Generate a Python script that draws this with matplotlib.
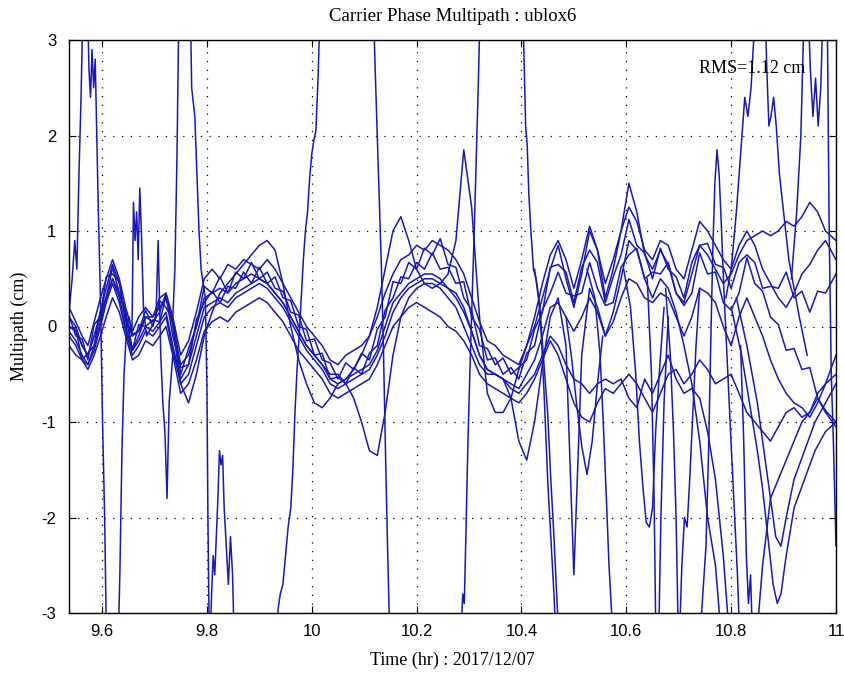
import numpy as np
import matplotlib
matplotlib.use("Agg")
import matplotlib.pyplot as plt

# epochs (hr) shared by the satellites tracked over the whole session
hours = [9.537, 9.55, 9.562, 9.573, 9.585, 9.597, 9.608, 9.62, 9.633, 9.645,
         9.658, 9.67, 9.683, 9.697, 9.71, 9.722, 9.735, 9.75, 9.765, 9.78,
         9.795, 9.81, 9.825, 9.84, 9.855, 9.87, 9.885, 9.9, 9.915, 9.93,
         9.945, 9.96, 9.975, 9.99, 10.005, 10.02, 10.035, 10.05, 10.065, 10.08,
         10.095, 10.11, 10.125, 10.14, 10.155, 10.17, 10.185, 10.2, 10.215, 10.23,
         10.245, 10.26, 10.275, 10.29, 10.305, 10.32, 10.335, 10.35, 10.365, 10.38,
         10.395, 10.41, 10.425, 10.44, 10.455, 10.47, 10.485, 10.5, 10.515, 10.53,
         10.545, 10.56, 10.575, 10.59, 10.605, 10.62, 10.635, 10.65, 10.665, 10.68,
         10.695, 10.71, 10.725, 10.74, 10.755, 10.77, 10.785, 10.8, 10.815, 10.83,
         10.845, 10.86, 10.875, 10.89, 10.905, 10.92, 10.935, 10.95, 10.965, 10.98,
         11.0]

# multipath (cm) per satellite on those epochs
mp_prn02 = [0.2, 0.05, -0.1, -0.2, 0.05, 0.3, 0.5, 0.7, 0.5, 0.2,
            -0.05, 0.1, 0.2, 0.1, 0.3, 0.35, 0.1, -0.3, -0.15, 0.15,
            0.5, 0.6, 0.5, 0.65, 0.6, 0.7, 0.65, 0.6, 0.7, 0.6,
            0.45, 0.3, 0.15, 0.0, -0.1, -0.2, -0.35, -0.4, -0.3, -0.25,
            -0.2, -0.1, 0.1, 0.35, 0.55, 0.7, 0.75, 0.85, 0.8, 0.9,
            0.85, 0.8, 0.7, 0.55, 0.3, 0.05, -0.15, -0.2, -0.3, -0.35,
            -0.4, -0.2, 0.1, 0.45, 0.75, 0.9, 0.7, 0.4, 0.7, 1.05,
            0.8, 0.45, 0.7, 1.0, 1.25, 1.1, 0.8, 0.7, 0.9, 0.85,
            0.6, 0.5, 0.8, 1.1, 1.0, 0.85, 0.7, 0.6, 0.85, 1.0,
            0.85, 0.6, 0.45, 0.3, 0.2, 0.35, 0.55, 0.65, 0.8, 0.9,
            0.7]
mp_prn05 = [0.12, -0.1, -0.13, -0.35, 0.02, 0.1, 0.52, 0.55, 0.47, 0.05,
            -0.08, -0.05, 0.17, 0.0, 0.27, 0.2, 0.07, -0.5, -0.23, 0.0,
            0.42, 0.35, 0.52, 0.35, 0.57, 0.5, 0.67, 0.5, 0.57, 0.4,
            0.37, 0.15, 0.12, -0.15, -0.13, -0.35, -0.38, -0.55, -0.38, -0.45,
            -0.28, -0.35, -0.03, 0.1, 0.47, 0.45, 0.67, 0.6, 0.82, 0.75,
            0.92, 0.65, 0.62, 0.3, 0.17, -0.2, -0.23, -0.4, -0.33, -0.5,
            -0.43, -0.35, -0.03, 0.15, 0.62, 0.65, 0.57, 0.25, 0.62, 0.8,
            0.67, 0.25, 0.52, 0.75, 1.12, 0.85, 0.77, 0.5, 0.82, 0.6,
            0.52, 0.3, 0.67, 0.85, 0.87, 0.65, 0.62, 0.4, 0.67, 0.75,
            0.67, 0.4, 0.42, 0.4, 0.57, 0.3, 0.37, 0.15, 0.37, 0.35,
            0.55]
mp_prn10 = [-0.2, -0.3, -0.35, -0.45, -0.3, -0.1, 0.1, 0.3, 0.15, -0.1,
            -0.35, -0.3, -0.15, -0.2, -0.1, 0.0, -0.3, -0.7, -0.6, -0.35,
            -0.05, 0.05, 0.1, 0.05, 0.15, 0.2, 0.25, 0.3, 0.25, 0.15,
            0.05, -0.1, -0.25, -0.35, -0.45, -0.55, -0.7, -0.75, -0.7, -0.65,
            -0.6, -0.55, -0.4, -0.2, 0.0, 0.1, 0.2, 0.25, 0.2, 0.15,
            0.1, 0.0, -0.05, -0.15, -0.3, -0.5, -0.6, -0.65, -0.7, -0.75,
            -0.8, -0.7, -0.55, -0.35, -0.15, -0.3, -0.55, -0.8, -0.95, -1.0,
            -0.8, -0.65, -0.7, -0.6, -0.5, -0.6, -0.75, -0.9, -0.7, -0.5,
            -0.45, -0.6, -0.5, -0.35, -0.45, -0.6, -0.55, -0.5, -0.7, -0.9,
            -1.0, -1.1, -1.2, -1.05, -0.9, -0.85, -0.95, -0.9, -0.75, -0.9,
            -1.05]
mp_prn13 = [-0.1, -0.2, -0.35, -0.4, -0.25, 0.0, 0.25, 0.45, 0.25, -0.05,
            -0.3, -0.2, -0.05, -0.1, 0.0, 0.1, -0.25, -0.6, -0.5, -0.2,
            0.1, 0.2, 0.25, 0.2, 0.3, 0.35, 0.4, 0.45, 0.4, 0.3,
            0.2, 0.05, -0.1, -0.25, -0.35, -0.45, -0.6, -0.65, -0.6, -0.55,
            -0.5, -0.45, -0.3, -0.1, 0.15, 0.3, 0.4, 0.45, 0.5, 0.5,
            0.45, 0.4, 0.3, 0.15, -0.05, -0.3, -0.45, -0.5, -0.55, -0.6,
            -0.65, -0.5, -0.35, -0.1, 0.2, 0.25, 0.1, -0.05, 0.1, 0.3,
            0.15, -0.1, 0.05, 0.3, 0.5, 0.45, 0.3, 0.25, 0.35, 0.3,
            0.1, -0.1, 0.1, 0.4, 0.35, 0.25, 0.0, -0.2, 0.1, 0.3,
            0.1, -0.1, -0.35, -0.55, -0.7, -0.8, -0.85, -0.95, -0.8, -0.6,
            -0.3]
mp_prn15 = [0.1, 0.0, -0.2, -0.3, -0.1, 0.15, 0.4, 0.65, 0.45, 0.1,
            -0.25, -0.1, 0.1, 0.05, 0.15, 0.35, 0.0, -0.6, -0.8, -0.5,
            -0.1, 0.15, 0.35, 0.45, 0.55, 0.65, 0.75, 0.85, 0.9, 0.8,
            0.45, 0.0, -0.35, -0.6, -0.8, -0.85, -0.75, -0.6, -0.55, -0.45,
            -0.3, -0.1, 0.2, 0.6, 1.0, 1.15, 0.9, 0.6, 0.45, 0.4,
            0.45, 0.55, 0.9, 1.85, 1.25, 0.1, -0.7, -0.9, -0.9, -0.75,
            -0.45, -0.2, 0.0, 0.3, 0.6, 0.85, 0.5, 0.2, 0.55, 1.0,
            0.8, 0.3, 0.6, 1.0, 1.5, 1.2, 0.75, 0.6, 0.8, 0.65,
            0.35, 0.25, 0.55, 0.85, 0.75, 0.6, 0.45, 0.55, 0.75, 0.9,
            0.95, 1.0, 0.95, 1.0, 1.1, 1.05, 1.15, 1.3, 1.2, 1.0,
            0.9]
mp_prn20 = [-0.05, -0.15, -0.3, -0.4, -0.2, 0.05, 0.3, 0.5, 0.3, 0.0,
            -0.25, -0.15, 0.0, -0.05, 0.05, 0.15, -0.2, -0.55, -0.4, -0.1,
            0.2, 0.25, 0.3, 0.25, 0.35, 0.4, 0.45, 0.5, 0.45, 0.35,
            0.25, 0.1, -0.05, -0.2, -0.3, -0.4, -0.5, -0.5, -0.6, -0.75,
            -1.0, -1.3, -1.35, -0.9, -0.3, 0.1, 0.3, 0.4, 0.45, 0.45,
            0.4, 0.3, 0.2, 0.0, -0.2, -0.4, -0.5, -0.5, -0.55, -0.65,
            -0.7, -0.6, -0.5, -0.3, -0.1, -0.2, -0.4, -0.55, -0.6, -0.7,
            -0.6, -0.55, -0.6, -0.55, -0.75, -0.85, -0.55, -0.7, -0.5, -0.3,
            -0.55, -0.7, -0.65, -0.75, -1.1, -1.6, -2.4, -3.5, -3.5, -3.5,
            -3.5, -3.5, -3.5, -3.5, -3.5, -3.5, -3.5, -3.5, -3.5, -3.5,
            -3.5]
mp_prn24 = [0.0, -0.05, -0.2, -0.3, -0.1, 0.1, 0.3, 0.5, 0.35, 0.1,
            -0.1, -0.05, 0.1, 0.1, 0.2, 0.3, 0.05, -0.4, -0.3, 0.0,
            0.3, 0.35, 0.4, 0.35, 0.45, 0.5, 0.55, 0.5, 0.45, 0.35,
            0.25, 0.1, -0.05, -0.2, -0.3, -0.4, -0.55, -0.6, -0.55, -0.5,
            -0.45, -0.4, -0.25, 0.0, 0.25, 0.35, 0.45, 0.5, 0.55, 0.55,
            0.5, 0.4, 0.35, 0.2, -0.05, -0.3, -0.45, -0.5, -0.55, -0.75,
            -1.2, -1.4, -1.0, -0.4, 0.1, 0.3, -0.2, -2.6, -0.3, 0.4,
            0.2, -0.1, 0.15, 0.5, 0.9, 0.8, 0.5, 0.3, 0.5, 0.4,
            0.15, -0.2, -0.6, -1.2, -2.0, -2.5, -3.5, -3.5, -3.5, -3.5,
            -3.5, -2.5, -1.8, -1.6, -1.4, -1.2, -1.0, -0.9, -0.7, -0.6,
            -0.5]
mp_prn29 = [0.0, -0.03, -0.35, -0.28, -0.2, 0.17, 0.3, 0.62, 0.35, 0.17,
            -0.25, 0.02, 0.0, 0.07, 0.05, 0.32, -0.1, -0.43, -0.4, 0.07,
            0.25, 0.37, 0.25, 0.42, 0.4, 0.57, 0.45, 0.62, 0.45, 0.52,
            0.3, 0.27, 0.0, -0.03, -0.3, -0.28, -0.55, -0.53, -0.6, -0.43,
            -0.5, -0.28, -0.2, 0.17, 0.3, 0.52, 0.5, 0.67, 0.6, 0.77,
            0.6, 0.62, 0.45, 0.47, 0.1, -0.03, -0.35, -0.33, -0.5, -0.43,
            -0.55, -0.28, -0.2, 0.17, 0.35, 0.57, 0.35, 0.32, 0.35, 0.67,
            0.4, 0.22, 0.25, 0.62, 0.75, 0.82, 0.5, 0.57, 0.55, 0.67,
            0.35, 0.22, 0.35, 0.77, 0.55, 0.57, 0.25, 0.17, 0.35, 0.72,
            0.45, 0.37, 0.1, 0.02, -0.25, -0.23, -0.45, -0.43, -0.75, -0.88,
            -1.0]

# satellites with short arcs / big excursions: own epochs
t_prn12 = [9.537, 9.543, 9.548, 9.552, 9.556, 9.56, 9.564, 9.572, 9.575, 9.578,
           9.581, 9.584, 9.587, 9.59, 9.593, 9.597, 9.601, 9.605, 9.609, 9.63,
           9.634, 9.638, 9.642, 9.647, 9.652, 9.657, 9.66, 9.663, 9.666, 9.669,
           9.672, 9.675, 9.679, 9.685, 9.695, 9.703, 9.707, 9.712, 9.716, 9.72,
           9.724, 9.728, 9.735, 9.745]
mp_prn12 = [0.15, 0.5, 0.9, 0.6, 1.6, 2.4, 3.5, 3.5, 2.7, 2.4,
            2.9, 2.5, 2.8, 2.0, 1.2, 0.3, -1.0, -2.0, -3.5, -3.5,
            -2.6, -1.3, -0.5, 0.0, 0.1, -0.1, 1.3, 0.9, 1.2, 0.7,
            1.45, 1.0, 0.2, -0.1, 0.0, 0.1, 0.9, -0.3, -0.8, -1.1,
            -1.8, -0.8, -0.3, -0.4]

t_prn17 = [9.735, 9.739, 9.743, 9.747, 9.768, 9.771, 9.774, 9.777, 9.781, 9.785,
           9.789, 9.793, 9.797, 9.8, 9.802, 9.805, 9.809, 9.812, 9.815, 9.818,
           9.821, 9.824, 9.827, 9.83, 9.833, 9.837, 9.841, 9.845, 9.849, 9.853]
mp_prn17 = [0.1, 0.6, 1.8, 3.5, 3.5, 2.5, 2.35, 2.2, 1.6, 1.0,
            0.6, 0.45, 0.3, -0.6, -2.0, -3.5, -2.8, -2.4, -2.6, -2.2,
            -1.8, -1.3, -1.45, -1.35, -1.9, -2.3, -2.7, -2.2, -2.6, -3.5]

t_prn08 = [9.93, 9.936, 9.94, 9.945, 9.95, 9.955, 9.96, 9.964, 9.968, 9.972,
           9.976, 9.98, 9.984, 9.988, 9.992, 9.996, 10.0, 10.004, 10.008, 10.012,
           10.017, 10.117, 10.121, 10.125, 10.129, 10.133, 10.137, 10.141, 10.145, 10.15]
mp_prn08 = [-3.5, -2.95, -2.8, -2.7, -2.4, -2.1, -1.9, -1.5, -0.9, -0.45,
            -0.1, 0.3, 0.7, 1.0, 1.2, 1.55, 1.8, 1.95, 2.05, 2.6,
            3.5, 3.5, 2.7, 2.0, 1.3, 0.6, -0.3, -1.4, -2.4, -3.5]

t_prn26 = [10.283, 10.288, 10.291, 10.294, 10.298, 10.302, 10.306, 10.31, 10.314, 10.318,
           10.322, 10.402, 10.405, 10.408, 10.411, 10.414, 10.418, 10.423, 10.428, 10.433,
           10.438, 10.444, 10.45, 10.456, 10.462, 10.468]
mp_prn26 = [-3.5, -2.8, -2.9, -2.2, -1.2, -0.4, 0.3, 1.0, 1.8, 2.6,
            3.5, 3.5, 2.8, 2.1, 1.9, 1.4, 1.0, 0.6, 0.5, 0.3,
            -0.1, -0.8, -1.6, -2.2, -2.8, -3.5]

t_prn31 = [10.425, 10.435, 10.443, 10.45, 10.456, 10.462, 10.468, 10.474]
mp_prn31 = [0.6, 0.2, -0.4, -0.9, -1.6, -2.2, -2.9, -3.5]

t_prn30 = [10.485, 10.495, 10.505, 10.515, 10.525, 10.535, 10.545, 10.555]
mp_prn30 = [0.1, -0.3, -0.8, -1.25, -1.55, -1.2, -0.6, -0.1]

t_prn04 = [10.525, 10.54, 10.55, 10.556, 10.562, 10.567, 10.572, 10.578]
mp_prn04 = [0.6, 0.3, -0.3, -1.0, -1.8, -2.5, -3.0, -3.5]

t_prn09 = [10.595, 10.608, 10.618, 10.625, 10.632, 10.638, 10.644, 10.65, 10.656, 10.664,
           10.672]
mp_prn09 = [0.6, 0.2, -0.5, -1.2, -1.7, -2.05, -2.1, -1.9, -1.1, -0.4,
            0.2]

t_prn16 = [10.64, 10.648, 10.653, 10.657, 10.661, 10.666, 10.672, 10.68]
mp_prn16 = [0.5, -0.5, -1.8, -3.5, -3.5, -2.0, -0.8, 0.1]

t_prn14 = [10.675, 10.684, 10.69, 10.695, 10.7, 10.706, 10.711, 10.716, 10.721, 10.727,
           10.733, 10.74]
mp_prn14 = [0.4, -0.3, -1.1, -2.0, -3.5, -2.5, -2.0, -2.1, -1.6, -0.9,
            -0.2, 0.4]

t_prn19 = [10.738, 10.746, 10.752, 10.757, 10.761, 10.765, 10.769, 10.773, 10.777, 10.781,
           10.786, 10.792, 10.798, 10.805, 10.812, 10.818]
mp_prn19 = [-3.5, -2.8, -2.3, -1.3, -0.2, 0.8, 1.5, 1.85, 1.6, 1.1,
            0.4, -0.3, -1.0, -1.8, -2.6, -3.5]

t_prn22 = [10.818, 10.824, 10.829, 10.833, 10.837, 10.842]
mp_prn22 = [-0.2, -1.2, -2.4, -2.9, -2.6, -3.5]

t_prn21 = [10.79, 10.8, 10.81, 10.818, 10.826, 10.832, 10.838, 10.843, 10.848, 10.864,
           10.868, 10.872, 10.876, 10.881, 10.886, 10.892, 10.9, 10.91, 10.92, 10.93,
           10.945]
mp_prn21 = [0.3, 0.6, 1.2, 1.8, 2.4, 2.2, 2.5, 3.0, 3.5, 3.5,
            2.7, 2.1, 2.2, 2.4, 2.1, 1.6, 1.2, 0.7, 0.4, 0.1,
            -0.3]

t_prn23 = [10.8, 10.82, 10.835, 10.85, 10.86, 10.87, 10.88, 10.888, 10.895, 10.905,
           10.92, 10.94, 10.96, 10.98, 11.0]
mp_prn23 = [0.2, -0.3, -0.8, -1.3, -1.7, -2.2, -2.7, -2.9, -2.8, -2.4,
            -1.9, -1.6, -1.3, -1.1, -1.0]

t_prn25 = [10.81, 10.83, 10.85, 10.865, 10.875, 10.885, 10.895, 10.905, 10.92, 10.94,
           10.96, 10.98, 11.0]
mp_prn25 = [0.3, -0.2, -0.8, -1.4, -1.8, -2.2, -2.3, -2.0, -1.6, -1.3,
            -1.0, -0.8, -0.6]

t_prn28 = [10.915, 10.925, 10.933, 10.94, 10.946, 10.951, 10.956, 10.961, 10.966, 10.971,
           10.976, 10.983, 10.987, 10.991, 10.995, 11.0]
mp_prn28 = [0.5, 1.2, 2.0, 3.5, 3.5, 2.7, 2.2, 2.6, 2.1, 2.5,
            3.5, 3.5, 1.0, -0.5, -1.2, -2.3]

rms_text = 'RMS=1.12 cm'
xtick_vals = [9.6, 9.8, 10.0, 10.2, 10.4, 10.6, 10.8, 11.0]
xtick_labels = ['9.6', '9.8', '10', '10.2', '10.4', '10.6', '10.8', '11']
ytick_vals = [-3, -2, -1, 0, 1, 2, 3]
ytick_labels = ['-3', '-2', '-1', '0', '1', '2', '3']

full_arcs = [mp_prn02, mp_prn05, mp_prn10, mp_prn13, mp_prn15,
             mp_prn20, mp_prn24, mp_prn29]
short_arcs = [(t_prn12, mp_prn12), (t_prn17, mp_prn17), (t_prn08, mp_prn08),
              (t_prn26, mp_prn26), (t_prn31, mp_prn31), (t_prn30, mp_prn30),
              (t_prn04, mp_prn04), (t_prn09, mp_prn09), (t_prn16, mp_prn16),
              (t_prn14, mp_prn14), (t_prn19, mp_prn19), (t_prn22, mp_prn22),
              (t_prn21, mp_prn21), (t_prn23, mp_prn23), (t_prn25, mp_prn25),
              (t_prn28, mp_prn28)]

line_col = '#1818b4'
serif = 'Liberation Serif'

fig = plt.figure(figsize=(8.44, 6.74), dpi=100)
ax = fig.add_axes([69 / 844, 61 / 674, 767 / 844, 573 / 674])

# every satellite in the same blue, like the original MATLAB plot
for mp in full_arcs:
    ax.plot(hours, mp, color=line_col, lw=1.1)
for t, mp in short_arcs:
    ax.plot(t, mp, color=line_col, lw=1.1)

ax.set_xlim(9.537, 11.0)
ax.set_ylim(-3, 3)
ax.set_xticks(xtick_vals)
ax.set_xticklabels(xtick_labels, family='Liberation Sans', fontsize=12)
ax.set_yticks(ytick_vals)
ax.set_yticklabels(ytick_labels, family='Liberation Sans', fontsize=12)
ax.tick_params(direction='in', top=True, right=True, length=5, width=0.8)
ax.tick_params(axis='x', pad=8)
ax.tick_params(axis='y', pad=9)
ax.grid(True, color='k', linestyle=(0, (1, 6)), linewidth=0.9)
for sp in ax.spines.values():
    sp.set_linewidth(1.0)

ax.set_title('Carrier Phase Multipath : ublox6', family=serif, fontsize=13.5, pad=14)
ax.set_xlabel('Time (hr) : 2017/12/07', family=serif, fontsize=13, labelpad=9)
ax.set_ylabel('Multipath (cm)', family=serif, fontsize=13, labelpad=10)
ax.text(0.821, 0.951, rms_text, transform=ax.transAxes, family=serif,
        fontsize=13, ha='left', va='center')

fig.savefig('out.png', dpi=100)
